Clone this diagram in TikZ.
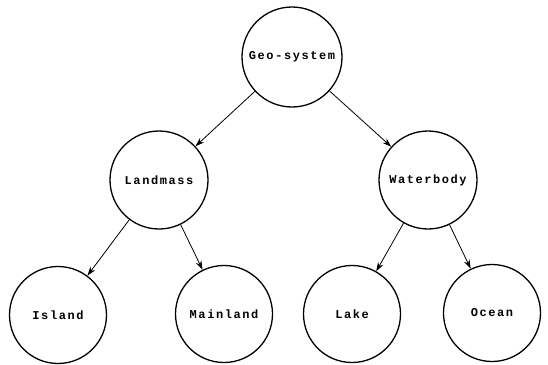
\documentclass[tikz,border=0pt]{standalone}
\usepackage{fontspec}
\setmonofont{Liberation Mono}
\usetikzlibrary{arrows.meta}
\tikzset{
  topic/.style={circle, draw=black, line width=1.3pt, fill=white, inner sep=0pt,
    minimum size=97pt, font=\ttfamily\bfseries\fontsize{12}{14}\selectfont\addfontfeature{LetterSpace=13}},
  link/.style={draw=black, line width=0.8pt, -{Stealth[length=9pt,width=6pt]}}
}
\begin{document}
\begin{tikzpicture}[x=1pt,y=-1pt]
\useasboundingbox[fill=white] (0,0) rectangle (548,364);
\node[topic, minimum size=100pt] (geo) at (292,57) {Geo-system};
\node[topic, minimum size=98pt] (land) at (159,180) {Landmass};
\node[topic, minimum size=98pt] (water) at (428,180) {Waterbody};
\node[topic] (island) at (58,315) {Island};
\node[topic] (main) at (224,314) {Mainland};
\node[topic] (lake) at (352,314) {Lake};
\node[topic] (ocean) at (492,313) {Ocean};
\draw[link] (geo) -- (land);
\draw[link] (geo) -- (water);
\draw[link] (land) -- (island);
\draw[link] (land) -- (main);
\draw[link] (water) -- (lake);
\draw[link] (water) -- (ocean);
\end{tikzpicture}
\end{document}
